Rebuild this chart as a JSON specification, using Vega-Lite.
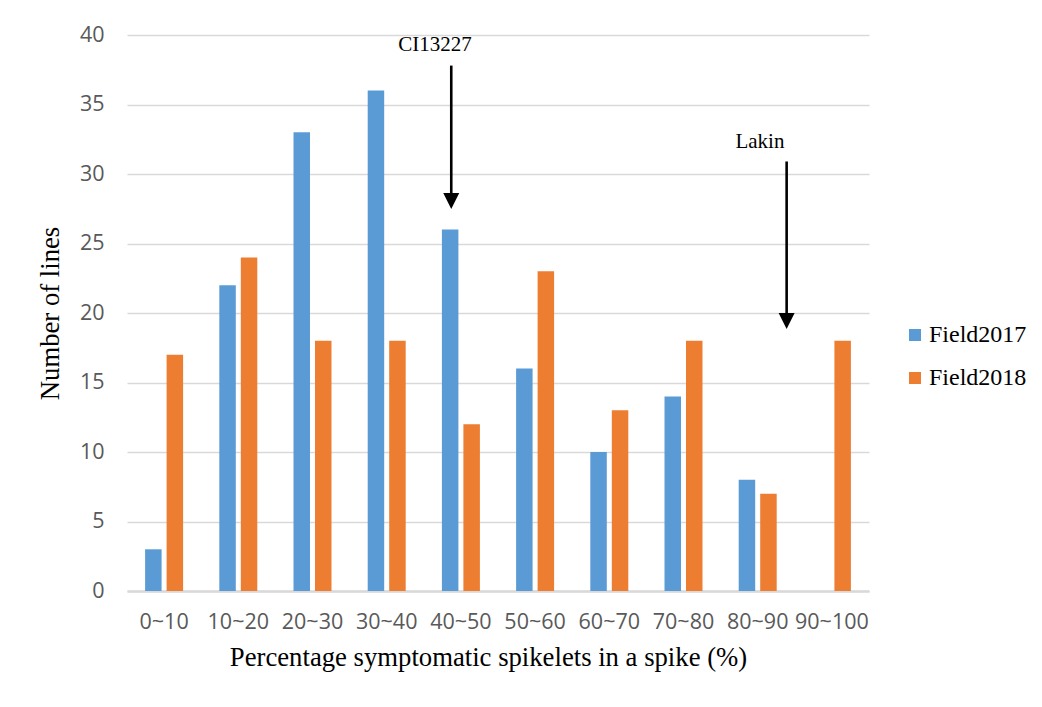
{
  "$schema": "https://vega.github.io/schema/vega-lite/v6.json",
  "width": 742,
  "height": 556,
  "autosize": "none",
  "padding": {"left": 127, "top": 35, "right": 173, "bottom": 116},
  "background": "white",
  "config": {
    "view": {"stroke": null},
    "axis": {
      "labelFont": "Open Sans",
      "labelFontSize": 21.5,
      "labelColor": "#595959",
      "titleFont": "Liberation Serif",
      "titleFontSize": 26.7,
      "titleFontWeight": "normal",
      "titleColor": "black",
      "ticks": false,
      "gridColor": "#D9D9D9",
      "gridWidth": 1.3
    },
    "legend": {
      "labelFont": "Liberation Serif",
      "labelFontSize": 24,
      "labelColor": "black"
    }
  },
  "datasets": {
    "counts": [
      {"range": "0~10", "field": "Field2017", "lines": 3},
      {"range": "0~10", "field": "Field2018", "lines": 17},
      {"range": "10~20", "field": "Field2017", "lines": 22},
      {"range": "10~20", "field": "Field2018", "lines": 24},
      {"range": "20~30", "field": "Field2017", "lines": 33},
      {"range": "20~30", "field": "Field2018", "lines": 18},
      {"range": "30~40", "field": "Field2017", "lines": 36},
      {"range": "30~40", "field": "Field2018", "lines": 18},
      {"range": "40~50", "field": "Field2017", "lines": 26},
      {"range": "40~50", "field": "Field2018", "lines": 12},
      {"range": "50~60", "field": "Field2017", "lines": 16},
      {"range": "50~60", "field": "Field2018", "lines": 23},
      {"range": "60~70", "field": "Field2017", "lines": 10},
      {"range": "60~70", "field": "Field2018", "lines": 13},
      {"range": "70~80", "field": "Field2017", "lines": 14},
      {"range": "70~80", "field": "Field2018", "lines": 18},
      {"range": "80~90", "field": "Field2017", "lines": 8},
      {"range": "80~90", "field": "Field2018", "lines": 7},
      {"range": "90~100", "field": "Field2017", "lines": 0},
      {"range": "90~100", "field": "Field2018", "lines": 18}
    ],
    "checks": [
      {"name": "CI13227", "pct": 43.7, "namePct": 41.5, "nameY": 39.3, "top": 37.8, "tip": 28.06},
      {"name": "Lakin", "pct": 88.9, "namePct": 85.3, "nameY": 32.3, "top": 30.9, "tip": 19.42}
    ]
  },
  "resolve": {"scale": {"x": "independent"}},
  "layer": [
    {
      "data": {"name": "counts"},
      "mark": {"type": "bar"},
      "encoding": {
        "x": {
          "field": "range",
          "type": "nominal",
          "sort": null,
          "scale": {"paddingInner": 0.488, "paddingOuter": 0.244},
          "axis": {
            "title": "Percentage symptomatic spikelets in a spike (%)",
            "titleX": 361,
            "labelAngle": 0,
            "labelPadding": 20,
            "titlePadding": 12,
            "domainColor": "#D9D9D9",
            "domainWidth": 2.5,
            "grid": false
          }
        },
        "xOffset": {
          "field": "field",
          "type": "nominal",
          "scale": {"paddingInner": 0.233, "paddingOuter": 0}
        },
        "y": {
          "field": "lines",
          "type": "quantitative",
          "scale": {"domain": [0, 40]},
          "axis": {
            "title": "Number of lines",
            "values": [0, 5, 10, 15, 20, 25, 30, 35, 40],
            "labelPadding": 23,
            "titlePadding": 15,
            "domain": false,
            "grid": true
          }
        },
        "color": {
          "field": "field",
          "type": "nominal",
          "scale": {"range": ["#5B9BD5", "#ED7D31"]},
          "legend": {
            "title": null,
            "orient": "none",
            "legendX": 776,
            "legendY": 288,
            "symbolType": "square",
            "symbolSize": 144,
            "symbolStrokeWidth": 0,
            "labelOffset": 2,
            "rowPadding": 19,
            "padding": 0
          }
        }
      }
    },
    {
      "data": {"name": "checks"},
      "mark": {"type": "rule", "strokeWidth": 2.6, "color": "black"},
      "encoding": {
        "x": {"field": "pct", "type": "quantitative", "scale": {"domain": [0, 100]}, "axis": null},
        "y": {"field": "top", "type": "quantitative"},
        "y2": {"field": "tip"}
      }
    },
    {
      "data": {"name": "checks"},
      "mark": {"type": "point", "shape": "M-1,-1L1,-1L0,1Z", "size": 256, "filled": true, "color": "black", "opacity": 1},
      "encoding": {
        "x": {"field": "pct", "type": "quantitative", "scale": {"domain": [0, 100]}, "axis": null},
        "y": {"field": "tip", "type": "quantitative"}
      }
    },
    {
      "data": {"name": "checks"},
      "mark": {"type": "text", "font": "Liberation Serif", "fontSize": 21, "color": "black", "baseline": "middle", "align": "center"},
      "encoding": {
        "x": {"field": "namePct", "type": "quantitative", "scale": {"domain": [0, 100]}, "axis": null},
        "y": {"field": "nameY", "type": "quantitative"},
        "text": {"field": "name"}
      }
    }
  ]
}
